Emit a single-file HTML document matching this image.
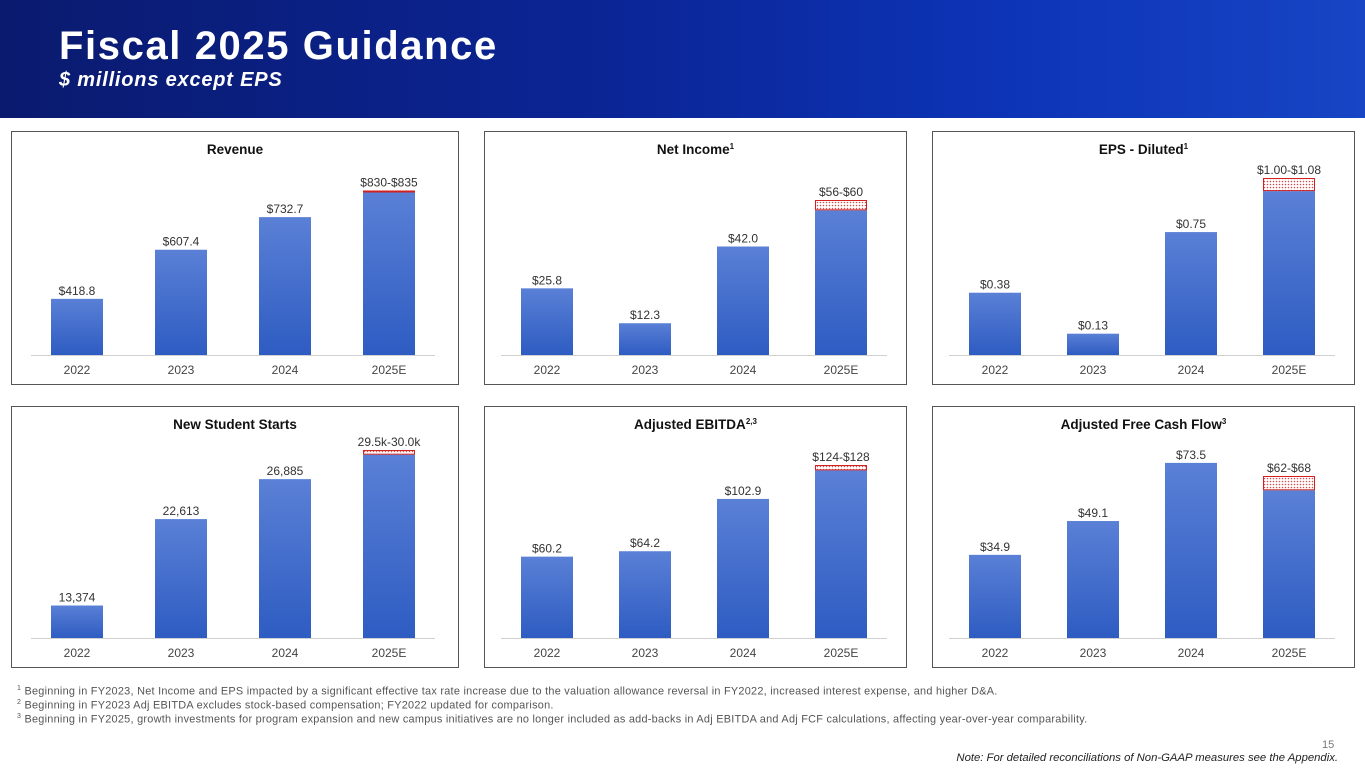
<!DOCTYPE html>
<html><head><meta charset="utf-8">
<style>
body{margin:0;width:1365px;height:768px;overflow:hidden;background:#fff;font-family:"Liberation Sans",Arial,sans-serif;position:relative}
#hdr{position:absolute;left:0;top:0;width:1365px;height:118px;background:linear-gradient(90deg,#0a1a6e 0%,#0b2596 45%,#0d35b8 75%,#1745c4 100%)}
#hdr h1{position:absolute;left:59px;top:24px;margin:0;color:#fff;font-size:40px;font-weight:bold;letter-spacing:1.6px}
#hdr h2{position:absolute;left:59px;top:69px;margin:0;color:#fff;font-size:20px;font-weight:bold;font-style:italic;letter-spacing:0.8px}
.fn{position:absolute;left:17px;font-size:10.9px;letter-spacing:0.26px;color:#555;white-space:nowrap}
.fn sup{font-size:7px}
</style></head><body>
<div id="hdr">
<h1>Fiscal 2025 Guidance</h1>
<h2>$ millions except EPS</h2>
</div>
<svg id="charts" width="1365" height="768" style="position:absolute;left:0;top:0">
<defs>
<linearGradient id="bg" x1="0" y1="0" x2="0" y2="1"><stop offset="0" stop-color="#5a80d6"/><stop offset="1" stop-color="#2e5cc2"/></linearGradient>
<pattern id="dots" width="3" height="3" patternUnits="userSpaceOnUse"><rect width="3" height="3" fill="#fff"/><circle cx="1.5" cy="1.5" r="0.8" fill="#d05050"/></pattern>
</defs>
</svg>
<div class="fn" style="top:685px"><sup>1</sup> Beginning in FY2023, Net Income and EPS impacted by a significant effective tax rate increase due to the valuation allowance reversal in FY2022, increased interest expense, and higher D&amp;A.</div>
<div class="fn" style="top:699px"><sup>2</sup> Beginning in FY2023 Adj EBITDA excludes stock-based compensation; FY2022 updated for comparison.</div>
<div class="fn" style="top:713px"><sup>3</sup> Beginning in FY2025, growth investments for program expansion and new campus initiatives are no longer included as add-backs in Adj EBITDA and Adj FCF calculations, affecting year-over-year comparability.</div>
<div style="position:absolute;left:1322px;top:739px;font-size:11px;color:#777">15</div>
<div style="position:absolute;right:27px;top:752px;font-size:11.3px;font-style:italic;color:#222">Note: For detailed reconciliations of Non-GAAP measures see the Appendix.</div>
<script>
const categories=["2022","2023","2024","2025E"];
const revenueValues=[418.8,607.4,732.7,830];
const revenueHigh=835;
const revenueLabels=["$418.8","$607.4","$732.7","$830-$835"];
const netIncomeValues=[25.8,12.3,42.0,56];
const netIncomeHigh=60;
const netIncomeLabels=["$25.8","$12.3","$42.0","$56-$60"];
const epsValues=[0.38,0.13,0.75,1.00];
const epsHigh=1.08;
const epsLabels=["$0.38","$0.13","$0.75","$1.00-$1.08"];
const startsValues=[13374,22613,26885,29500];
const startsHigh=30000;
const startsLabels=["13,374","22,613","26,885","29.5k-30.0k"];
const ebitdaValues=[60.2,64.2,102.9,124];
const ebitdaHigh=128;
const ebitdaLabels=["$60.2","$64.2","$102.9","$124-$128"];
const fcfValues=[34.9,49.1,73.5,62];
const fcfHigh=68;
const fcfLabels=["$34.9","$49.1","$73.5","$62-$68"];

const NS="http://www.w3.org/2000/svg";
const svg=document.getElementById('charts');
function mk(t,a){const e=document.createElementNS(NS,t);for(const k in a)e.setAttribute(k,a[k]);return e;}
const panels=[
 {name:'revenue',title:'Revenue',sup:'',x:11,y:131,w:448,h:254,x0:77,step:104,base:355,vals:revenueValues,hi:revenueHigh,labels:revenueLabels,dmin:203,dmax:835,pmax:164.5},
 {name:'net-income',title:'Net Income',sup:'1',x:484,y:131,w:423,h:254,x0:547,step:98,base:355,vals:netIncomeValues,hi:netIncomeHigh,labels:netIncomeLabels,dmin:0,dmax:60,pmax:155},
 {name:'eps',title:'EPS - Diluted',sup:'1',x:932,y:131,w:423,h:254,x0:995,step:98,base:355,vals:epsValues,hi:epsHigh,labels:epsLabels,dmin:0,dmax:1.08,pmax:177},
 {name:'new-student-starts',title:'New Student Starts',sup:'',x:11,y:406,w:448,h:262,x0:77,step:104,base:638,vals:startsValues,hi:startsHigh,labels:startsLabels,dmin:9900,dmax:30000,pmax:188},
 {name:'adjusted-ebitda',title:'Adjusted EBITDA',sup:'2,3',x:484,y:406,w:423,h:262,x0:547,step:98,base:638,vals:ebitdaValues,hi:ebitdaHigh,labels:ebitdaLabels,dmin:0,dmax:128,pmax:173},
 {name:'adjusted-fcf',title:'Adjusted Free Cash Flow',sup:'3',x:932,y:406,w:423,h:262,x0:995,step:98,base:638,vals:fcfValues,hi:fcfHigh,labels:fcfLabels,dmin:0,dmax:68,pmax:162}
];
panels.forEach(p=>{
 const g=mk('g',{});
 
 
 svg.appendChild(g);
 const border=mk('rect',{x:p.x+0.5,y:p.y+0.5,width:p.w-1,height:p.h-1,fill:'none',stroke:'#555','stroke-width':1});
 
 
 g.appendChild(border);
 const t=mk('text',{x:p.x+p.w/2,y:p.y+23,'text-anchor':'middle','font-size':13.5,'font-weight':'bold',fill:'#111'});
 t.textContent=p.title;
 if(p.sup){const s=mk('tspan',{'font-size':8,dy:-5});s.textContent=p.sup;t.appendChild(s);}
 
 
 g.appendChild(t);
 const yS=v=>p.base-(v-p.dmin)/(p.dmax-p.dmin)*p.pmax;
 const xS=i=>p.x0+i*p.step;
 const ax=mk('line',{x1:xS(0)-46,x2:xS(3)+46,y1:p.base+0.5,y2:p.base+0.5,stroke:'#d0d0d0','stroke-width':1});
 
 
 g.appendChild(ax);
 const bw=52;
 p.vals.forEach((v,i)=>{
  const top=yS(v);
  const r=mk('rect',{x:xS(i)-bw/2,y:top,width:bw,height:p.base-top,fill:'url(#bg)'});
  
  
  g.appendChild(r);
  let lt=top;
  if(i===3){
   const ht=yS(p.hi);
   const rr=mk('rect',{x:xS(i)-bw/2+0.5,y:ht+0.5,width:bw-1,height:Math.max(top-ht-1,1),fill:'url(#dots)',stroke:'#d02020','stroke-width':1});
   
   
   g.appendChild(rr);
   lt=ht;
  }
  const vl=mk('text',{x:xS(i),y:lt-4,'text-anchor':'middle','font-size':12,fill:'#333'});
  vl.textContent=p.labels[i];
  
  
  g.appendChild(vl);
  const cl=mk('text',{x:xS(i),y:p.base+19,'text-anchor':'middle','font-size':12,fill:'#444'});
  cl.textContent=categories[i];
  
  
  g.appendChild(cl);
 });
});
</script>
</body></html>
